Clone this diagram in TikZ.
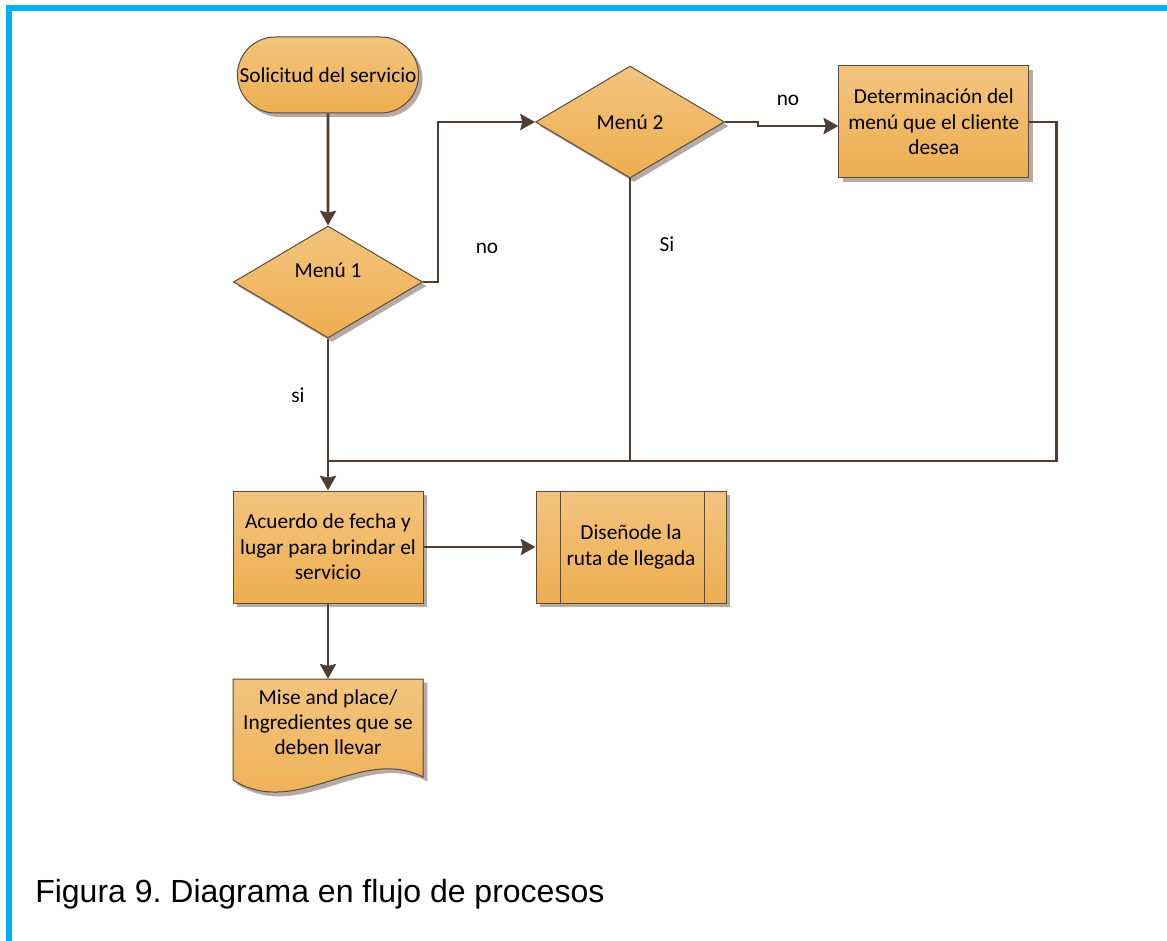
\documentclass[tikz,border=0pt]{standalone}
\usepackage{fontspec}
\setmainfont{Carlito}
\newfontfamily\captionfont{Liberation Sans}
\usepackage{tikz}
\usetikzlibrary{arrows.meta, positioning, shapes.geometric, shapes.misc, shadows}

\definecolor{boxtop}{HTML}{F3C47F}
\definecolor{boxbottom}{HTML}{EDAE4F}
\definecolor{boxline}{HTML}{5E4A3A}
\definecolor{flowline}{HTML}{4F3E33}
\definecolor{shadowgray}{HTML}{B7AAA2}
\definecolor{framecyan}{HTML}{00B0F0}

\newcommand{\boxfont}{\fontsize{16pt}{19pt}\selectfont}
\frenchspacing

\begin{document}
\begin{tikzpicture}[
        x=0.75pt, y=-0.75pt,
        node distance=84pt,
        base/.style={draw=boxline, line width=0.75pt, top color=boxtop, bottom color=boxbottom, align=center, font=\boxfont,
            drop shadow={shadow xshift=3pt, shadow yshift=-3pt, fill=shadowgray, opacity=1}},
        terminal/.style={base, rounded rectangle, minimum width=142.5pt, minimum height=57pt},
        process/.style={base, rectangle, minimum width=142.5pt, minimum height=84pt, inner sep=0pt},
        decision/.style={base, diamond, minimum width=141.75pt, minimum height=84pt, inner sep=0pt},
        predef/.style={process, path picture={
            \draw[boxline, line width=0.75pt] ([xshift=18pt]path picture bounding box.north west) -- ([xshift=18pt]path picture bounding box.south west);
            \draw[boxline, line width=0.75pt] ([xshift=-16.5pt]path picture bounding box.north east) -- ([xshift=-16.5pt]path picture bounding box.south east);}},
        doctext/.style={minimum width=142.5pt, minimum height=64.5pt, inner sep=0pt, align=center, font=\boxfont},
        answer/.style={font=\boxfont, inner sep=0pt},
        flow/.style={-{Stealth[length=11pt, width=12pt, inset=1.5pt]}, line width=2.2pt, draw=flowline},
        link/.style={line width=2.2pt, draw=flowline}
    ]
    \useasboundingbox (0,0) rectangle (1167,941);

    % frame
    \draw[framecyan, line width=4pt] (9,941) -- (9,8) -- (1167,8);

    % left column
    \node[terminal] (start) at (328,75) {Solicitud del servicio};
    \node[decision, label={[yshift=9pt, font=\boxfont]center:Menú 1}] (menu1) at (328,282) {};
    \node[process] (acuerdo) at (328,547) {Acuerdo de fecha y\\lugar para brindar el\\servicio};
    \node[predef] (diseno) [right=of acuerdo] {Diseñode la\\ruta de llegada};

    % document
    \filldraw[shadowgray, shift={(4,4)}] (233,679) -- (423,679) -- (423,777)
        .. controls (360,745) and (296,820) .. (233,780) -- cycle;
    \filldraw[draw=boxline, line width=0.75pt, top color=boxtop, bottom color=boxbottom] (233,679) -- (423,679) -- (423,777)
        .. controls (360,745) and (296,820) .. (233,780) -- cycle;
    \node[doctext] (mise) at (328,722) {Mise and place/\\Ingredientes que se\\deben llevar};

    % upper row
    \node[decision] (menu2) at (630,122) {Menú 2};
    \node[process] (menu) [right=85pt of menu2] {Determinación del\\menú que el cliente\\desea};

    \coordinate (merge) at (328,461);

    % answers
    \node[answer] (no1) at (487,248) {no};
    \node[answer] (no2) at (788,100) {no};
    \node[answer] (si1) at (298,395) {si};
    \node[answer] (si2) at (667,244) {Si};

    \draw[flow] (start) -- (menu1);
    \draw[flow] (menu1.east) -- ++(15,0) |- (menu2.west);
    \draw[flow] (menu2.east) -- ++(33,0) |- ([yshift=-3pt]menu.west);
    \draw[link] (menu.east) -- ++(27,0) |- (merge);
    \draw[link] (menu2.south) -- (menu2.south |- merge);
    \draw[flow] (menu1.south) -- (acuerdo.north);
    \draw[flow] (acuerdo) -- (diseno);
    \draw[flow] (acuerdo) -- (mise.north);

    % caption
    \node[anchor=base west, inner sep=0pt, font=\captionfont\fontsize{24pt}{28pt}\selectfont] (caption) at (35,902) {Figura 9. Diagrama en flujo de procesos};

\end{tikzpicture}
\end{document}
